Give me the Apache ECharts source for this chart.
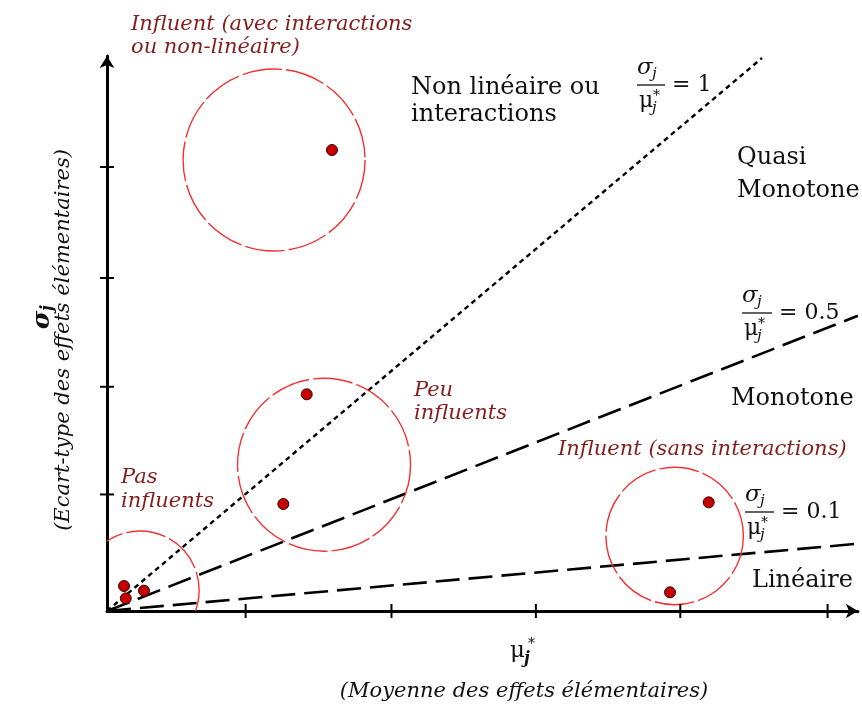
<!DOCTYPE html>
<html><head><meta charset="utf-8">
<script src="https://cdn.jsdelivr.net/npm/echarts@6/dist/echarts.min.js"></script>
<style>html,body{margin:0;padding:0;background:#fff}#c{width:862px;height:709px}</style>
</head><body><div id="c"></div>
<script>
// ---- data (axis units) ----
const xTicks = [0.96, 1.97, 2.97, 3.97, 4.99];
const yTicks = [1.05, 2.02, 3.0, 4.0];
const pointsX = [1.558, 1.383, 1.221, 0.118, 0.130, 0.256, 4.167, 3.899];
const pointsY = [4.153, 1.952, 0.964, 0.225, 0.114, 0.183, 0.979, 0.168];
const groupNames = ['Influent (avec interactions ou non-linéaire)', 'Peu influents', 'Pas influents', 'Influent (sans interactions)'];
const groupCx = [1.157, 1.503, 0.229, 3.931];
const groupCy = [4.063, 1.318, 0.189, 0.676];
const groupR  = [0.630, 0.599, 0.409, 0.476];
const ratioValues = ['1', '0.5', '0.1'];
const ratioEndX = [4.536, 5.2, 5.18];
const ratioEndY = [4.982, 2.66, 0.604];

const RED_TXT = '#861c1c';
const BLK = '#111';
const SERIF = '"DejaVu Serif", "Liberation Serif", serif';

function txt(x, y, text, font, fill, align, extra) {
  return Object.assign({
    type: 'text', x: x, y: y, silent: true,
    style: { text: text, font: font, fill: fill || BLK,
      textAlign: align || 'left', align: align || 'left',
      textVerticalAlign: 'middle', verticalAlign: 'middle' }
  }, extra || {});
}

function frac(x0, yBar, w, rhs) {
  return {
    type: 'group', x: x0, y: yBar, children: [
      txt(0, -17, 'σ', 'italic 23px ' + SERIF),
      txt(15, -11, 'j', 'italic 15px ' + SERIF),
      { type: 'line', shape: { x1: 0, y1: 0, x2: w, y2: 0 }, style: { stroke: '#222', lineWidth: 1.4 } },
      txt(2, 16, 'μ', '22px ' + SERIF),
      txt(16, 11, '*', '14px ' + SERIF),
      txt(15, 23, 'j', 'italic 15px ' + SERIF),
      txt(w + 7, 0, '= ' + rhs, '22px ' + SERIF)
    ]
  };
}

const chart = echarts.init(document.getElementById('c'), null, { renderer: 'canvas' });

const axisBase = {
  type: 'value', min: 0,
  splitLine: { show: false },
  axisLabel: { show: false },
  axisTick: { show: false }
};

const lineStyles = [
  { width: 2.4, type: [5, 4] },
  { width: 2.6, type: [24, 9] },
  { width: 2.6, type: [24, 9] }
];

function tickSeries(values, isX) {
  return {
    type: 'custom', name: isX ? 'ticksX' : 'ticksY', silent: true, clip: false, z: 6,
    data: values.map(function (v) { return [v]; }),
    renderItem: function (params, api) {
      const v = api.value(0);
      const p = isX ? api.coord([v, 0]) : api.coord([0, v]);
      const shape = isX
        ? { x1: p[0], y1: p[1] - 7, x2: p[0], y2: p[1] + 7 }
        : { x1: p[0] - 7, y1: p[1], x2: p[0] + 7, y2: p[1] };
      return { type: 'line', shape: shape, style: { stroke: '#000', lineWidth: 2 } };
    }
  };
}

const option = {
  animation: false,
  backgroundColor: '#fff',
  grid: { left: 107, top: 56, width: 750.9, height: 555 },
  xAxis: Object.assign({}, axisBase, {
    max: 5.2, position: 'bottom',
    axisLine: { show: true, lineStyle: { color: '#000', width: 3 }, symbol: ['none', 'arrow'], symbolSize: [11, 12] }
  }),
  yAxis: Object.assign({}, axisBase, {
    max: 5, position: 'left',
    axisLine: { show: true, lineStyle: { color: '#000', width: 3 }, symbol: ['none', 'arrow'], symbolSize: [11, 12] }
  }),
  series: [].concat(
    ratioValues.map(function (r, i) {
      return {
        type: 'line', name: 'σ/μ* = ' + r, silent: true, showSymbol: false, symbol: 'none', z: 2,
        data: [[0, 0], [ratioEndX[i], ratioEndY[i]]],
        lineStyle: Object.assign({ color: '#000' }, lineStyles[i])
      };
    }),
    [tickSeries(xTicks, true), tickSeries(yTicks, false),
    {
      type: 'custom', name: 'groupes', clip: true, silent: true, z: 3,
      data: groupNames.map(function (n, i) { return [groupCx[i], groupCy[i], groupR[i]]; }),
      renderItem: function (params, api) {
        const c = api.coord([api.value(0), api.value(1)]);
        const r = api.size([api.value(2), 0])[0];
        return {
          type: 'circle', shape: { cx: c[0], cy: c[1], r: r },
          style: { fill: 'none', stroke: '#f43131', lineWidth: 1.4, lineDash: [40, 4] }
        };
      }
    },
    {
      type: 'scatter', name: 'facteurs', z: 5, silent: true,
      symbolSize: 11,
      data: pointsX.map(function (x, i) { return [x, pointsY[i]]; }),
      itemStyle: { color: '#c40000', borderColor: '#3a0000', borderWidth: 1, opacity: 1 }
    }]
  ),
  graphic: [
    // red group labels
    txt(131, 25, 'Influent (avec interactions', 'italic 21px ' + SERIF, RED_TXT),
    txt(131, 48, 'ou non-linéaire)', 'italic 21px ' + SERIF, RED_TXT),
    txt(414, 391, 'Peu', 'italic 21px ' + SERIF, RED_TXT),
    txt(414, 414, 'influents', 'italic 21px ' + SERIF, RED_TXT),
    txt(121, 478, 'Pas', 'italic 21px ' + SERIF, RED_TXT),
    txt(121, 502, 'influents', 'italic 21px ' + SERIF, RED_TXT),
    txt(558, 450, 'Influent (sans interactions)', 'italic 21px ' + SERIF, RED_TXT),
    // black region labels
    txt(411, 88, 'Non linéaire ou', '24px ' + SERIF),
    txt(411, 115, 'interactions', '24px ' + SERIF),
    txt(737, 158, 'Quasi', '24px ' + SERIF),
    txt(737, 191, 'Monotone', '24px ' + SERIF),
    txt(731, 399, 'Monotone', '24px ' + SERIF),
    txt(752, 581, 'Linéaire', '24px ' + SERIF),
    // ratio formulas
    frac(637, 85, 28, ratioValues[0]),
    frac(742, 313, 30, ratioValues[1]),
    frac(745, 512, 29, ratioValues[2]),
    // x axis name
    txt(510, 651, 'μ', '23px ' + SERIF),
    txt(528, 644, '*', '14px ' + SERIF),
    txt(524, 659, 'j', 'bold italic 16px ' + SERIF),
    txt(524, 692, '(Moyenne des effets élémentaires)', 'italic 21px ' + SERIF, BLK, 'center'),
    // y axis name
    txt(64, 340, '(Ecart-type des effets élémentaires)', 'italic 21px ' + SERIF, BLK, 'center', { rotation: Math.PI / 2 }),
    {
      type: 'group', x: 42, y: 320, rotation: Math.PI / 2, children: [
        txt(0, 0, 'σ', 'bold italic 25px ' + SERIF, BLK, 'center'),
        txt(12, 6, 'j', 'bold italic 16px ' + SERIF, BLK, 'center')
      ]
    }
  ]
};
chart.setOption(option);
</script>
</body></html>
